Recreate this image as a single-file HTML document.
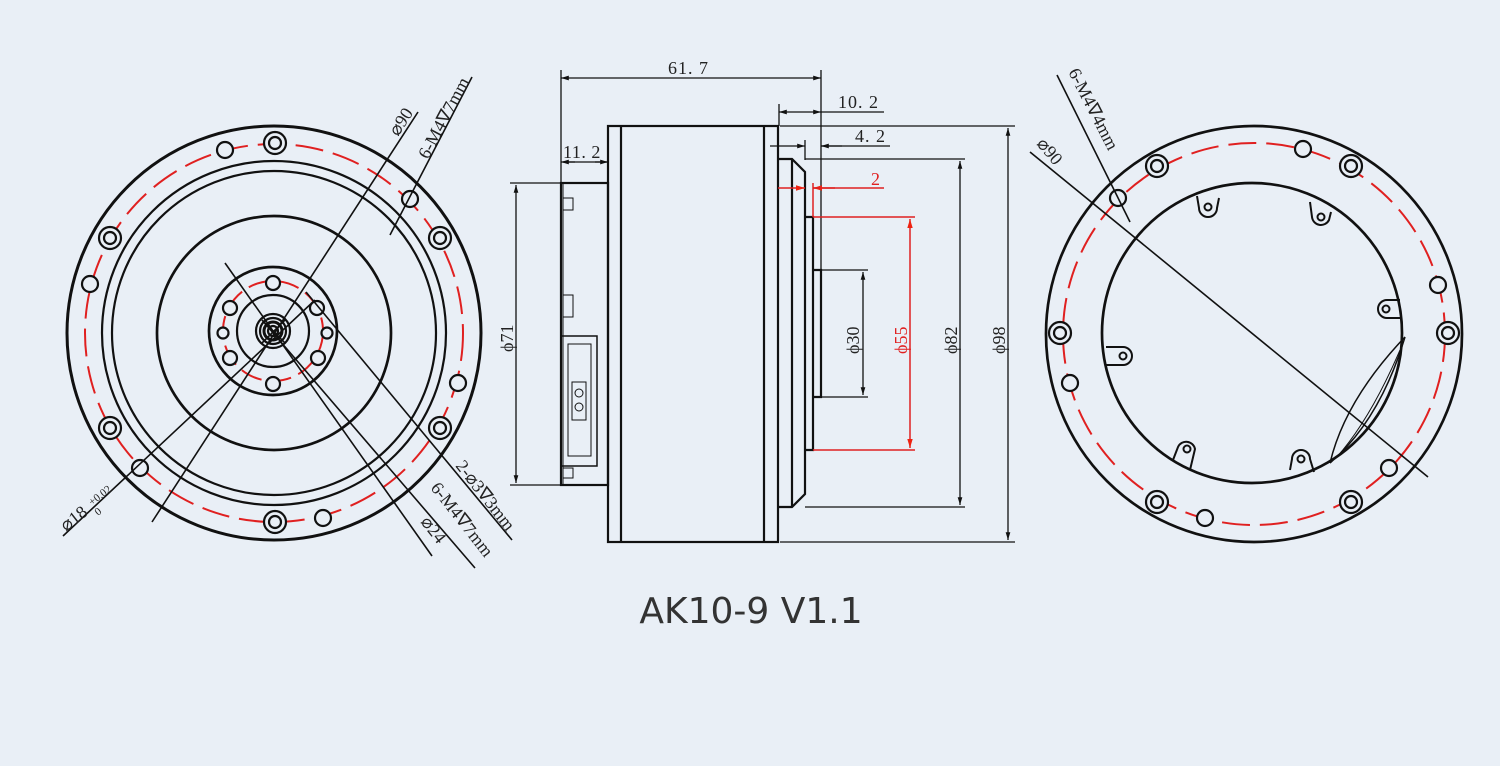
<!DOCTYPE html>
<html><head><meta charset="utf-8"><style>
html,body{margin:0;padding:0;background:#e9eff6;}
svg{display:block}
text{font-family:"Liberation Serif",serif;fill:#222}
</style></head><body>
<svg width="1500" height="766" viewBox="0 0 1500 766" xmlns="http://www.w3.org/2000/svg">
<rect width="1500" height="766" fill="#e9eff6"/>
<defs>
<marker id="a" viewBox="0 0 10 10" refX="10" refY="5" markerWidth="8" markerHeight="6" orient="auto-start-reverse"><path d="M0,2L10,5L0,8z" fill="#111"/></marker>
<marker id="r" viewBox="0 0 10 10" refX="10" refY="5" markerWidth="8" markerHeight="6" orient="auto-start-reverse"><path d="M0,2L10,5L0,8z" fill="#e21"/></marker>
</defs>

<!-- LEFT VIEW -->
<g fill="none" stroke="#111" stroke-width="2.2">
<circle cx="274" cy="333" r="207" stroke-width="3"/>
<circle cx="274" cy="333" r="172"/>
<circle cx="274" cy="333" r="162"/>
<circle cx="274" cy="333" r="117" stroke-width="2.7"/>
<circle cx="273" cy="331" r="64" stroke-width="2.7"/>
<circle cx="273" cy="331" r="36"/>
<circle cx="273" cy="331" r="17"/>
<circle cx="273" cy="331" r="13"/>
<circle cx="273" cy="331" r="9" stroke-width="3"/>
<circle cx="273" cy="331" r="5"/>
</g>
<circle cx="274" cy="333" r="189" fill="none" stroke="#e02020" stroke-width="2" stroke-dasharray="28 10"/>
<circle cx="273" cy="331" r="50" fill="none" stroke="#e02020" stroke-width="2" stroke-dasharray="22 8"/>
<g fill="#e9eff6" stroke="#111" stroke-width="2.2">
<circle cx="275" cy="143" r="11"/><circle cx="275" cy="143" r="6"/>
<circle cx="110" cy="238" r="11"/><circle cx="110" cy="238" r="6"/>
<circle cx="440" cy="238" r="11"/><circle cx="440" cy="238" r="6"/>
<circle cx="110" cy="428" r="11"/><circle cx="110" cy="428" r="6"/>
<circle cx="440" cy="428" r="11"/><circle cx="440" cy="428" r="6"/>
<circle cx="275" cy="522" r="11"/><circle cx="275" cy="522" r="6"/>
<circle cx="225" cy="150" r="8"/><circle cx="90" cy="284" r="8"/><circle cx="410" cy="199" r="8"/>
<circle cx="458" cy="383" r="8"/><circle cx="140" cy="468" r="8"/><circle cx="323" cy="518" r="8"/>
<circle cx="273" cy="283" r="7"/><circle cx="230" cy="308" r="7"/><circle cx="223" cy="333" r="5.5"/>
<circle cx="230" cy="358" r="7"/><circle cx="273" cy="384" r="7"/><circle cx="317" cy="308" r="7"/>
<circle cx="327" cy="333" r="5.5"/><circle cx="318" cy="358" r="7"/>
</g>
<g stroke="#111" stroke-width="1.6" fill="none">
<line x1="418" y1="112" x2="152" y2="522"/>
<line x1="472" y1="77" x2="390" y2="235"/>
<line x1="63" y1="536" x2="315" y2="300"/>
<line x1="225" y1="263" x2="432" y2="556"/>
<line x1="262" y1="320" x2="475" y2="568"/>
<line x1="306" y1="292" x2="512" y2="540"/>
<line x1="262" y1="320" x2="285" y2="343"/>
<line x1="285" y1="320" x2="262" y2="343"/>
</g>
<text transform="translate(398,137) rotate(-57)" font-size="18">⌀90</text>
<text transform="translate(428,160) rotate(-62)" font-size="18">6-M4∇7mm</text>
<text transform="translate(66,532) rotate(-38)" font-size="18">⌀18</text>
<text transform="translate(92,506) rotate(-38)" font-size="11">+0.02</text>
<text transform="translate(98,516) rotate(-38)" font-size="11">0</text>
<text transform="translate(455,466) rotate(52)" font-size="18">2-⌀3∇3mm</text>
<text transform="translate(430,488) rotate(52)" font-size="18">6-M4∇7mm</text>
<text transform="translate(420,522) rotate(52)" font-size="18">⌀24</text>

<!-- MIDDLE VIEW -->
<g fill="none" stroke="#111" stroke-width="2.2">
<rect x="608" y="126" width="170" height="416"/>
<line x1="621" y1="126" x2="621" y2="542"/>
<line x1="764" y1="126" x2="764" y2="542"/>
<rect x="561" y="183" width="47" height="302"/>
<line x1="563" y1="183" x2="563" y2="485" stroke-width="1"/>
<rect x="563" y="198" width="10" height="12" stroke-width="1"/>
<rect x="563" y="295" width="10" height="22" stroke-width="1"/>
<rect x="563" y="468" width="10" height="10" stroke-width="1"/>
<rect x="561" y="336" width="36" height="130" stroke-width="1.5"/>
<rect x="568" y="344" width="23" height="112" stroke-width="1"/>
<rect x="572" y="382" width="14" height="38" stroke-width="1"/>
<circle cx="579" cy="393" r="4" stroke-width="1"/><circle cx="579" cy="407" r="4" stroke-width="1"/>
<path d="M778,159 L792,159 L805,172 L805,494 L792,507 L778,507"/>
<line x1="792" y1="159" x2="792" y2="507"/>
<path d="M805,217 L813,217 L813,450 L805,450"/>
<path d="M813,270 L821,270 L821,397 L813,397"/>
</g>
<g stroke="#111" stroke-width="1.3" fill="none">
<line x1="561" y1="70" x2="561" y2="183"/>
<line x1="821" y1="70" x2="821" y2="270"/>
<line x1="561" y1="78" x2="821" y2="78" marker-start="url(#a)" marker-end="url(#a)"/>
<line x1="779" y1="104" x2="779" y2="126"/>
<line x1="779" y1="112" x2="800" y2="112" marker-start="url(#a)"/>
<line x1="800" y1="112" x2="821" y2="112" marker-end="url(#a)"/>
<line x1="821" y1="112" x2="884" y2="112"/>
<line x1="805" y1="140" x2="805" y2="160"/>
<line x1="770" y1="146" x2="805" y2="146" marker-end="url(#a)"/>
<line x1="821" y1="146" x2="890" y2="146"/>
<line x1="842" y1="146" x2="821" y2="146" marker-end="url(#a)"/>
<line x1="563" y1="162" x2="608" y2="162"/>
<line x1="575" y1="162" x2="561" y2="162" marker-end="url(#a)"/>
<line x1="595" y1="162" x2="608" y2="162" marker-end="url(#a)"/>
<line x1="510" y1="183" x2="561" y2="183"/><line x1="510" y1="485" x2="561" y2="485"/>
<line x1="516" y1="185" x2="516" y2="483" marker-start="url(#a)" marker-end="url(#a)"/>
<line x1="780" y1="126" x2="1015" y2="126"/><line x1="780" y1="542" x2="1015" y2="542"/>
<line x1="1008" y1="128" x2="1008" y2="540" marker-start="url(#a)" marker-end="url(#a)"/>
<line x1="805" y1="159" x2="965" y2="159"/><line x1="805" y1="507" x2="965" y2="507"/>
<line x1="960" y1="161" x2="960" y2="505" marker-start="url(#a)" marker-end="url(#a)"/>
<line x1="821" y1="270" x2="868" y2="270"/><line x1="821" y1="397" x2="868" y2="397"/>
<line x1="863" y1="272" x2="863" y2="395" marker-start="url(#a)" marker-end="url(#a)"/>
</g>
<g stroke="#e02020" stroke-width="1.5" fill="none">
<line x1="778" y1="188" x2="805" y2="188" marker-end="url(#r)"/>
<line x1="813" y1="183" x2="813" y2="217"/>
<line x1="835" y1="188" x2="813" y2="188" marker-end="url(#r)"/>
<line x1="813" y1="188" x2="884" y2="188"/>
<line x1="813" y1="217" x2="915" y2="217"/><line x1="813" y1="450" x2="915" y2="450"/>
<line x1="910" y1="219" x2="910" y2="448" marker-start="url(#r)" marker-end="url(#r)"/>
</g>
<text x="668" y="74" font-size="18" letter-spacing="1">61. 7</text>
<text x="838" y="108" font-size="18" letter-spacing="1">10. 2</text>
<text x="855" y="142" font-size="18" letter-spacing="1">4. 2</text>
<text x="563" y="158" font-size="18" letter-spacing="0.5">11. 2</text>
<text x="871" y="185" font-size="18" style="fill:#e02020">2</text>
<text transform="translate(513,352) rotate(-90)" font-size="18">ϕ71</text>
<text transform="translate(859,354) rotate(-90)" font-size="18">ϕ30</text>
<text transform="translate(907,354) rotate(-90)" font-size="18" style="fill:#e02020">ϕ55</text>
<text transform="translate(957,354) rotate(-90)" font-size="18">ϕ82</text>
<text transform="translate(1005,354) rotate(-90)" font-size="18">ϕ98</text>

<!-- RIGHT VIEW -->
<g fill="none" stroke="#111" stroke-width="2.7">
<circle cx="1254" cy="334" r="208"/>
<circle cx="1252" cy="333" r="150"/>
</g>
<circle cx="1254" cy="334" r="191" fill="none" stroke="#e02020" stroke-width="2" stroke-dasharray="28 10"/>
<g fill="#e9eff6" stroke="#111" stroke-width="2.2">
<circle cx="1157" cy="166" r="11"/><circle cx="1157" cy="166" r="6"/>
<circle cx="1351" cy="166" r="11"/><circle cx="1351" cy="166" r="6"/>
<circle cx="1060" cy="333" r="11"/><circle cx="1060" cy="333" r="6"/>
<circle cx="1448" cy="333" r="11"/><circle cx="1448" cy="333" r="6"/>
<circle cx="1157" cy="502" r="11"/><circle cx="1157" cy="502" r="6"/>
<circle cx="1351" cy="502" r="11"/><circle cx="1351" cy="502" r="6"/>
<circle cx="1303" cy="149" r="8"/><circle cx="1118" cy="198" r="8"/><circle cx="1438" cy="285" r="8"/>
<circle cx="1070" cy="383" r="8"/><circle cx="1389" cy="468" r="8"/><circle cx="1205" cy="518" r="8"/>
</g>
<g fill="none" stroke="#111" stroke-width="2">
<path d="M1197,196 L1199,208 A9,9 0 0 0 1217,208 L1219,198"/><circle cx="1208" cy="207" r="3.5"/>
<path d="M1310,202 L1312,217 A9,9 0 0 0 1329,220 L1331,212"/><circle cx="1321" cy="217" r="3.5"/>
<path d="M1400,300 L1387,300 A9,9 0 0 0 1387,318 L1400,318"/><circle cx="1386" cy="309" r="3.5"/>
<path d="M1106,347 L1123,347 A9,9 0 0 1 1123,365 L1106,365"/><circle cx="1123" cy="356" r="3.5"/>
<path d="M1173,460 L1178,447 A9,9 0 0 1 1195,449 L1190,470"/><circle cx="1187" cy="449" r="3.5"/>
<path d="M1290,470 L1292,459 A9,9 0 0 1 1310,459 L1314,472"/><circle cx="1301" cy="459" r="3.5"/>
<path d="M1405,337 Q1345,400 1330,463" stroke-width="1.5"/>
<path d="M1405,337 Q1380,420 1330,463" stroke-width="1.5"/>
<path d="M1400,350 Q1370,420 1336,458" stroke-width="1"/>
</g>
<g stroke="#111" stroke-width="1.6">
<line x1="1030" y1="152" x2="1428" y2="477"/>
<line x1="1057" y1="75" x2="1130" y2="222"/>
</g>
<text transform="translate(1036,144) rotate(50)" font-size="18">⌀90</text>
<text transform="translate(1068,72) rotate(63)" font-size="18">6-M4∇4mm</text>

<text x="751" y="623" text-anchor="middle" font-size="36" style="font-family:'DejaVu Sans','Liberation Sans',sans-serif;fill:#333">AK10-9 V1.1</text>
</svg>
</body></html>
